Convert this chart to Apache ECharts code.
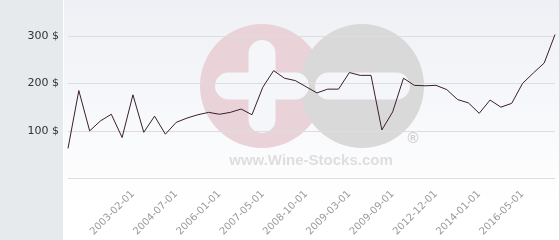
<!DOCTYPE html>
<html>
<head>
<meta charset="utf-8">
<script src="https://cdn.jsdelivr.net/npm/echarts@6/dist/echarts.min.js"></script>
<style>
html,body{margin:0;padding:0;background:#fff;}
#chart{width:560px;height:240px;}
</style>
</head>
<body>
<div id="chart"></div>
<script>
var categories = ['', '', '', '', '', '', '2003-02-01', '', '', '', '2004-07-01', '', '', '', '2006-01-01', '', '', '', '2007-05-01', '', '', '', '2008-10-01', '', '', '', '2009-03-01', '', '', '', '2009-09-01', '', '', '', '2012-12-01', '', '', '', '2014-01-01', '', '', '', '2016-05-01', '', '', ''];
var prices = [63, 185, 100, 121, 135, 86, 176, 97, 131, 93, 118, 127, 134, 139, 135, 139, 146, 134, 192, 227, 211, 206, 193, 180, 188, 188, 223, 217, 217, 102, 140, 211, 196, 195, 196, 187, 166, 159, 137, 165, 150, 158, 200, 222, 243, 303];
var yTicks = [0, 100, 200, 300];
var currency = '$';
var watermarkText = 'www.Wine-Stocks.com';

var chart = echarts.init(document.getElementById('chart'), null, {renderer: 'canvas'});
chart.setOption({
  animation: false,
  backgroundColor: '#ffffff',
  graphic: [
    {type: 'rect', z: -20, shape: {x: 0, y: 0, width: 63, height: 240}, style: {fill: '#e6eaed'}},
    {type: 'rect', z: -20, shape: {x: 63, y: 0, width: 497, height: 240},
      style: {fill: new echarts.graphic.LinearGradient(0, 0, 0, 1, [
        {offset: 0, color: '#eef0f5'}, {offset: 0.85, color: '#ffffff'}, {offset: 1, color: '#ffffff'}])}},
    {type: 'line', z: -19, shape: {x1: 63.5, y1: 0, x2: 63.5, y2: 240}, style: {stroke: '#ffffff', lineWidth: 1}},
    {type: 'line', z: -19, shape: {x1: 559.5, y1: 0, x2: 559.5, y2: 240}, style: {stroke: '#dcdcdc', lineWidth: 1}},
    {type: 'circle', z: -15, shape: {cx: 262, cy: 86, r: 62}, style: {fill: '#ead2d9'}},
    {type: 'circle', z: -14, shape: {cx: 362, cy: 86, r: 62}, style: {fill: '#d9d9d9'}},
    {type: 'rect', z: -13, shape: {x: 248.5, y: 40, width: 27, height: 93, r: 13.5}, style: {fill: '#f5f6fa'}},
    {type: 'rect', z: -13, shape: {x: 215, y: 72.5, width: 94, height: 27, r: 13.5}, style: {fill: '#f5f6fa'}},
    {type: 'rect', z: -13, shape: {x: 315, y: 72.5, width: 95, height: 27, r: 13.5}, style: {fill: '#f5f6fa'}},
    {type: 'text', z: -13, style: {x: 413, y: 139, text: '\u00AE', fill: '#d0d0d0', font: 'bold 15px "Liberation Sans"', textAlign: 'center', textVerticalAlign: 'middle'}},
    {type: 'text', z: -13, style: {x: 311, y: 161, text: watermarkText, fill: '#dedede', font: 'bold 15px "Liberation Sans"', textAlign: 'center', textVerticalAlign: 'middle'}}
  ],
  grid: {left: 68, right: 5, top: 36, bottom: 61.7, containLabel: false},
  xAxis: {
    type: 'category',
    data: categories,
    boundaryGap: false,
    axisLine: {show: false},
    axisTick: {show: false},
    splitLine: {show: false},
    axisLabel: {interval: 0, rotate: 45, fontSize: 10, color: '#9a9a9a', fontFamily: 'DejaVu Sans', margin: 14}
  },
  yAxis: {
    type: 'value',
    min: yTicks[0],
    max: yTicks[yTicks.length - 1],
    interval: yTicks[1] - yTicks[0],
    axisLine: {show: false},
    axisTick: {show: false},
    splitLine: {lineStyle: {color: '#dddddd', width: 1}},
    axisLabel: {
      fontSize: 11, color: '#333333', fontFamily: 'DejaVu Sans', margin: 9,
      formatter: function (v) { return v === 0 ? '' : v + ' ' + currency; }
    }
  },
  series: [{
    type: 'line',
    data: prices,
    symbol: 'none',
    clip: false,
    lineStyle: {color: '#3b1e2c', width: 1}
  }]
});
</script>
</body>
</html>
